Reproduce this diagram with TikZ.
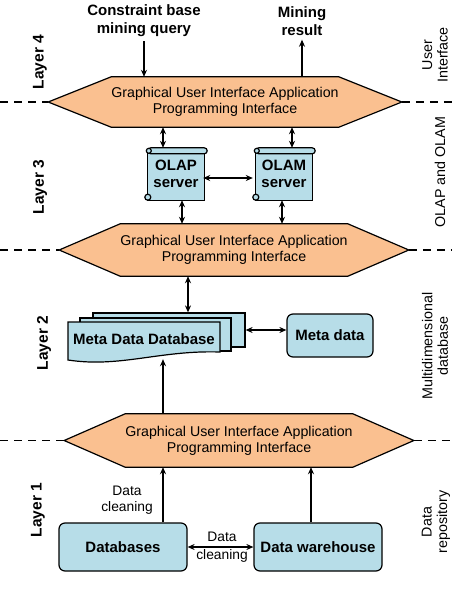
\documentclass[tikz,border=0pt]{standalone}
\usepackage{fontspec}
\setmainfont{Liberation Sans}
\usetikzlibrary{arrows.meta,calc,backgrounds}
\definecolor{hexfill}{HTML}{FAC090}
\definecolor{boxfill}{HTML}{B7DDE8}
\begin{document}
\begin{tikzpicture}[x=1pt,y=-1pt,
  tip/.tip={Stealth[length=7pt,width=6pt]},
  conn/.style={line width=1.3pt,-tip},
  biconn/.style={line width=1.3pt,tip-tip},
  hexnode/.style={minimum width=180pt,inner sep=0pt,align=center,font=\fontsize{14.2}{16}\selectfont},
  hexshape/.style={draw=black,line width=1.2pt,fill=hexfill},
  layerdiv/.style={dash pattern=on 8pt off 6pt,line width=1.3pt},
  layerlbl/.style={rotate=90,font=\bfseries\fontsize{15.5}{18}\selectfont},
  sidelbl/.style={rotate=90,align=center,font=\fontsize{14.3}{15.5}\selectfont},
  tbox/.style={draw=black,line width=1.2pt,fill=boxfill,rounded corners=6pt,inner sep=0pt,font=\bfseries\fontsize{15}{18}\selectfont,align=center},
  page/.style={draw=black,line width=1.2pt,fill=boxfill,inner sep=0pt},
  scrollst/.style={draw=black,line width=1.2pt,fill=boxfill},
  scrollnode/.style={minimum width=62pt,minimum height=52pt,inner sep=0pt,align=center,font=\bfseries\fontsize{15}{17}\selectfont},
  toplbl/.style={font=\bfseries\fontsize{15}{18}\selectfont,align=center,inner sep=1pt},
  smalllbl/.style={font=\fontsize{13.8}{16}\selectfont,align=center,inner sep=0pt}]
\useasboundingbox (0,0) rectangle (452,600);

% ---------- hexagons (GUI / API) ----------
\node[hexnode,minimum height=50pt] (h1) at (225,102) {Graphical User Interface Application\\Programming Interface};
\node[hexnode,minimum height=52pt] (h2) at (234,250) {Graphical User Interface Application\\Programming Interface};
\node[hexnode,minimum height=53pt] (h3) at (239,440.5) {Graphical User Interface Application\\Programming Interface};
\begin{scope}[on background layer]
  \fill[white] (0,0) rectangle (452,600);
  \draw[hexshape] (h1.north west) -- (h1.north east) -- ($(h1.east)+(63,0)$) -- (h1.south east) -- (h1.south west) -- ($(h1.west)+(-63,0)$) -- cycle;
  \draw[hexshape] (h2.north west) -- (h2.north east) -- ($(h2.east)+(61,0)$) -- (h2.south east) -- (h2.south west) -- ($(h2.west)+(-61,0)$) -- cycle;
  \draw[hexshape] (h3.north west) -- (h3.north east) -- ($(h3.east)+(61,0)$) -- (h3.south east) -- (h3.south west) -- ($(h3.west)+(-61,0)$) -- cycle;
\end{scope}

% ---------- layer dividers ----------
\draw[layerdiv] (0,102) -- ($(h1.west)+(-63,0)$);
\draw[layerdiv] ($(h1.east)+(63,0)$) -- (452,102);
\draw[layerdiv] (0,250) -- ($(h2.west)+(-61,0)$);
\draw[layerdiv] ($(h2.east)+(61,0)$) -- (452,250);
\draw[layerdiv] (0,440.5) -- ($(h3.west)+(-61,0)$);
\draw[layerdiv] ($(h3.east)+(61,0)$) -- (452,440.5);

% ---------- layer labels ----------
\node[layerlbl] (l4) at (40,62) {Layer 4};
\node[layerlbl] (l3) at (40,187) {Layer 3};
\node[layerlbl] (l2) at (44,343) {Layer 2};
\node[layerlbl] (l1) at (38,510) {Layer 1};

\node[sidelbl] (s4) at (435,55) {User\\Interface};
\node[sidelbl] (s3) at (440,172) {OLAP and OLAM};
\node[sidelbl] (s2) at (435,346) {Multidimensional\\database};
\node[sidelbl] (s1) at (436,522) {Data\\repository};

% ---------- layer 4 ----------
\node[toplbl] (q) at (144,21) {Constraint base\\mining query};
\node[toplbl] (r) at (302,21) {Mining\\result};
\draw[conn,shorten <=3pt] (q.south) -- (q.south |- h1.north);
\draw[conn] (r.south |- h1.north) -- ([yshift=-3pt]r.south);

% ---------- layer 3: OLAP / OLAM scrolls ----------
\node[scrollnode] (olap) at (176,174) {OLAP\\server};
\node[scrollnode] (olam) at (284,174) {OLAM\\server};
\begin{scope}[on background layer]
\foreach \s in {olap,olam}{
  \filldraw[scrollst] ($(\s.north west)+(3,3)$) rectangle ($(\s.south east)+(-3,0)$);
  \filldraw[scrollst,rounded corners=3pt] ($(\s.north west)+(3,0)$) rectangle ($(\s.north east)+(0,6)$);
  \filldraw[scrollst] ($(\s.north west)+(4,3)$) circle (2.5pt);
  \filldraw[scrollst] ($(\s.south west)+(3,-3)$) circle (3pt);
}
\end{scope}
\coordinate (xa) at (163,0);
\coordinate (xb) at (182,0);
\coordinate (xc) at (292,0);
\coordinate (xd) at (282,0);
\draw[biconn] (xa |- h1.south) -- (xa |- olap.north);
\draw[biconn] (xc |- h1.south) -- (xc |- olam.north);
\draw[biconn] (xb |- olap.south) -- (xb |- h2.north);
\draw[biconn] (xd |- olam.south) -- (xd |- h2.north);
\draw[biconn,shorten <=-4pt] ([yshift=-4pt]olap.east) -- ([yshift=-4pt]olam.west);

% ---------- layer 2 ----------
\node[page,minimum width=152pt,minimum height=34pt] (mdd3) at (169,330) {};
\node[page,minimum width=151pt,minimum height=33pt] (mdd2) at (155.5,334.5) {};
\draw[page] (68,322) -- (220,322) -- (220,352) .. controls (160,350) and (120,368) .. (68,360) -- cycle;
\node[inner sep=0pt,minimum width=152pt,minimum height=38pt,font=\bfseries\fontsize{15}{18}\selectfont] (mdd) at (144,339) {Meta Data Database};
\node[tbox,minimum width=86pt,minimum height=43pt] (meta) at (330,335.5) {Meta data};
\coordinate (xe) at (188,0);
\draw[biconn] (xe |- h2.south) -- (xe |- mdd3.north);
\draw[biconn] (mdd3.east) -- (mdd3.east -| meta.west);
\draw[conn,shorten >=1pt] (xa |- h3.north) -- (xa |- mdd.south);

% ---------- layer 1 ----------
\node[tbox,minimum width=128pt,minimum height=48pt] (db) at (123,547) {Databases};
\node[tbox,minimum width=128pt,minimum height=48pt] (wh) at (318,547) {Data warehouse};
\coordinate (xf) at (311,0);
\draw[conn] (xa |- db.north) -- (xa |- h3.south);
\draw[conn] (xf |- wh.north) -- (xf |- h3.south);
\draw[biconn] (db.east) -- (wh.west);
\node[smalllbl] (c1) at (127,500) {Data\\cleaning};
\node[smalllbl] (c2) at (222,547) {Data\\[2pt]cleaning};
\end{tikzpicture}
\end{document}
